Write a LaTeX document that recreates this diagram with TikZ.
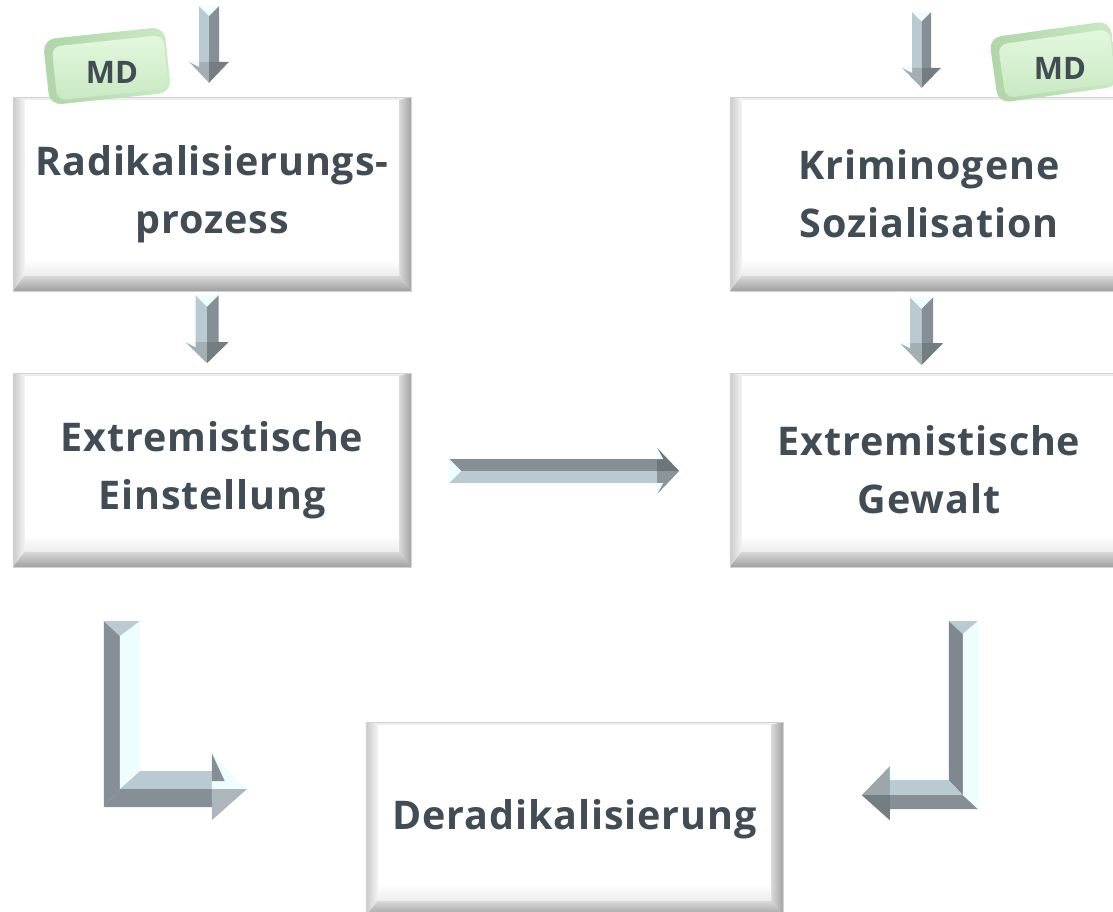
\documentclass[tikz,border=0pt]{standalone}
\usepackage{fontspec}
\setmainfont{Open Sans}
\newfontfamily\boxfont[LetterSpace=2.2]{Open Sans}
\usetikzlibrary{calc}
\definecolor{txtc}{HTML}{424C54}
\definecolor{arlight}{HTML}{B9CAD2}
\definecolor{ardark}{HTML}{868F95}
\definecolor{arpale}{HTML}{EEFEFF}
\definecolor{hdlight}{HTML}{A4AFB4}
\definecolor{hddark}{HTML}{737D82}
\definecolor{tagdark}{HTML}{AFD5A8}
\definecolor{taglight}{HTML}{CBEAC5}
\definecolor{tagtop}{HTML}{E4F7DE}
\definecolor{tagbot}{HTML}{C8E9C2}
\tikzset{
 bbox/.style={fill=white, minimum width=398pt, minimum height=194pt, inner sep=0pt,
   font=\boxfont\fontsize{39.5}{58}\selectfont\bfseries, text=txtc, align=center},
 tagtext/.style={inner sep=0pt, font=\fontsize{31}{33}\selectfont\bfseries, text=txtc},
}
\newcommand\boxbevel[1]{%
 \shade[top color=gray!8, bottom color=gray!18] (#1.north west) -- (#1.north east) -- ($(#1.north east)+(-12,3)$) -- ($(#1.north west)+(12,3)$) -- cycle;
 \shade[left color=gray!42, right color=gray!8] (#1.north west) -- ($(#1.north west)+(12,3)$) -- ($(#1.south west)+(12,-16)$) -- (#1.south west) -- cycle;
 \shade[left color=gray!30, right color=gray!72] (#1.north east) -- (#1.south east) -- ($(#1.south east)+(-12,-16)$) -- ($(#1.north east)+(-12,3)$) -- cycle;
 \shade[top color=gray!28, bottom color=gray!75] (#1.south west) -- ($(#1.south west)+(12,-16)$) -- ($(#1.south east)+(-12,-16)$) -- (#1.south east) -- cycle;
 \shade[top color=white, bottom color=gray!14] ($(#1.south west)+(12,-32)$) rectangle ($(#1.south east)+(-12,-16)$);
 \draw[gray!35, line width=0.6pt] (#1.north west) rectangle (#1.south east);
}
% down arrow: #1 shaft half width, #2 head start, #3 length, #4 head half width
\newcommand\dnarrow[4]{%
 \fill[arlight] (-#1,0) -- (0,#1) -- (0,#2) -- (-#1,#2) -- cycle;
 \fill[ardark] (#1,0) -- (0,#1) -- (0,#2) -- (#1,#2) -- cycle;
 \fill[arpale] (-#1,0) -- (0,#1) -- (#1,0) -- cycle;
 \fill[hdlight] (-#4,#2) -- (0,#3) -- (0,#2) -- cycle;
 \fill[hddark] (#4,#2) -- (0,#3) -- (0,#2) -- cycle;
 \fill[arpale] (-#4,#2) -- (-#1,#2) -- (-#1,#2+5) -- cycle;
}
% tag shape: rounded bevel and face
\newcommand\tagshape{%
 \shade[rounded corners=12pt, left color=tagdark, right color=taglight] (-61,-33) rectangle (61,33);
 \shade[rounded corners=9pt, top color=tagtop, bottom color=tagbot] (-53,-25) rectangle (59,29);
}
\begin{document}
\begin{tikzpicture}[x=1pt,y=-1pt]
\useasboundingbox (0,0) rectangle (1113,911);
\clip (0,0) rectangle (1113,911);
% boxes
\node[bbox] (rad) at (212,194) {Radikalisierungs-\\prozess};
\boxbevel{rad}
\node[bbox] (krim) at (929,194) {Kriminogene\\Sozialisation};
\boxbevel{krim}
\node[bbox] (einst) at (212,470) {Extremistische\\Einstellung};
\boxbevel{einst}
\node[bbox] (gew) at (929,470) {Extremistische\\Gewalt};
\boxbevel{gew}
\node[bbox, minimum width=417pt] (derad) at (574.5,819) {Deradikalisierung};
\boxbevel{derad}
% arrow anchors
\coordinate (aTL) at ($(rad.north)+(-3,-91)$);
\coordinate (aTR) at ($(krim.north)+(-7.5,-85)$);
\coordinate (aML) at ($(rad.south)+(-5,4)$);
\coordinate (aMR) at ($(krim.south)+(-7.5,6)$);
\coordinate (aH) at ($(einst.east)+(38,1)$);
\coordinate (aLL) at ($(einst.south west)+(91,54)$);
\coordinate (aLR) at ($(gew.south west)+(219,54)$);
% vertical arrows
\begin{scope}[shift={(aTL)}]\dnarrow{10}{56}{77}{20}\end{scope}
\begin{scope}[shift={(aTR)}]\dnarrow{9.5}{56}{76}{19.5}\end{scope}
\begin{scope}[shift={(aML)}]\dnarrow{11.5}{47}{68}{21.5}\end{scope}
\begin{scope}[shift={(aMR)}]\dnarrow{11.5}{46}{68}{21.5}\end{scope}
% horizontal arrow
\begin{scope}[shift={(aH)}]
 \fill[ardark] (0,-12) -- (208,-12) -- (208,0) -- (12,0) -- cycle;
 \fill[arlight] (12,0) -- (208,0) -- (208,12) -- (0,12) -- cycle;
 \fill[arpale] (0,-12) -- (12,0) -- (0,12) -- cycle;
 \fill[hddark!95!black] (208,-23) -- (230,0) -- (208,0) -- cycle;
 \fill[hdlight!85!black] (208,23) -- (230,0) -- (208,0) -- cycle;
 \fill[arpale] (208,-23) -- (214,-12) -- (208,-12) -- cycle;
 \fill[arpale] (208,23) -- (214,12) -- (208,12) -- cycle;
\end{scope}
% left L arrow
\begin{scope}[shift={(aLL)}]
 \fill[arlight] (0,0) -- (36,0) -- (16,15) -- cycle;
 \fill[ardark] (0,0) -- (16,15) -- (16,168) -- (0,186) -- cycle;
 \fill[arpale] (36,0) -- (16,15) -- (16,168) -- (36,150) -- cycle;
 \fill[arlight] (36,150) -- (108,150) -- (108,168) -- (16,168) -- cycle;
 \fill[ardark] (16,168) -- (108,168) -- (108,186) -- (0,186) -- cycle;
 \fill[arpale] (108,132) -- (143,168) -- (108,168) -- cycle;
 \fill[hdlight!90!white] (108,199) -- (143,168) -- (108,168) -- cycle;
 \fill[ardark] (108,132) -- (121,160) -- (108,160) -- cycle;
\end{scope}
% right L arrow
\begin{scope}[shift={(aLR)}]
 \fill[arlight] (0,0) -- (29,0) -- (14,13) -- cycle;
 \fill[ardark!95!black] (0,0) -- (14,13) -- (14,174) -- (0,159) -- cycle;
 \fill[arpale] (29,0) -- (14,13) -- (14,174) -- (29,188) -- cycle;
 \fill[arlight] (0,159) -- (14,174) -- (-59,174) -- (-59,159) -- cycle;
 \fill[ardark] (14,174) -- (29,188) -- (-59,188) -- (-59,174) -- cycle;
 \fill[hdlight!95!black] (-59,145) -- (-87,174) -- (-59,174) -- cycle;
 \fill[hddark] (-59,199) -- (-87,174) -- (-59,174) -- cycle;
 \fill[arpale] (-59,145) -- (-59,159) -- (-54,159) -- cycle;
\end{scope}
% MD tags
\begin{scope}[shift={(107,66)}, rotate=6]
 \tagshape
\end{scope}
\node[tagtext] (md1) at (112,72) {MD};
\begin{scope}[shift={(1054,62)}, rotate=8]
 \tagshape
\end{scope}
\node[tagtext] (md2) at (1060,68) {MD};
\end{tikzpicture}
\end{document}
